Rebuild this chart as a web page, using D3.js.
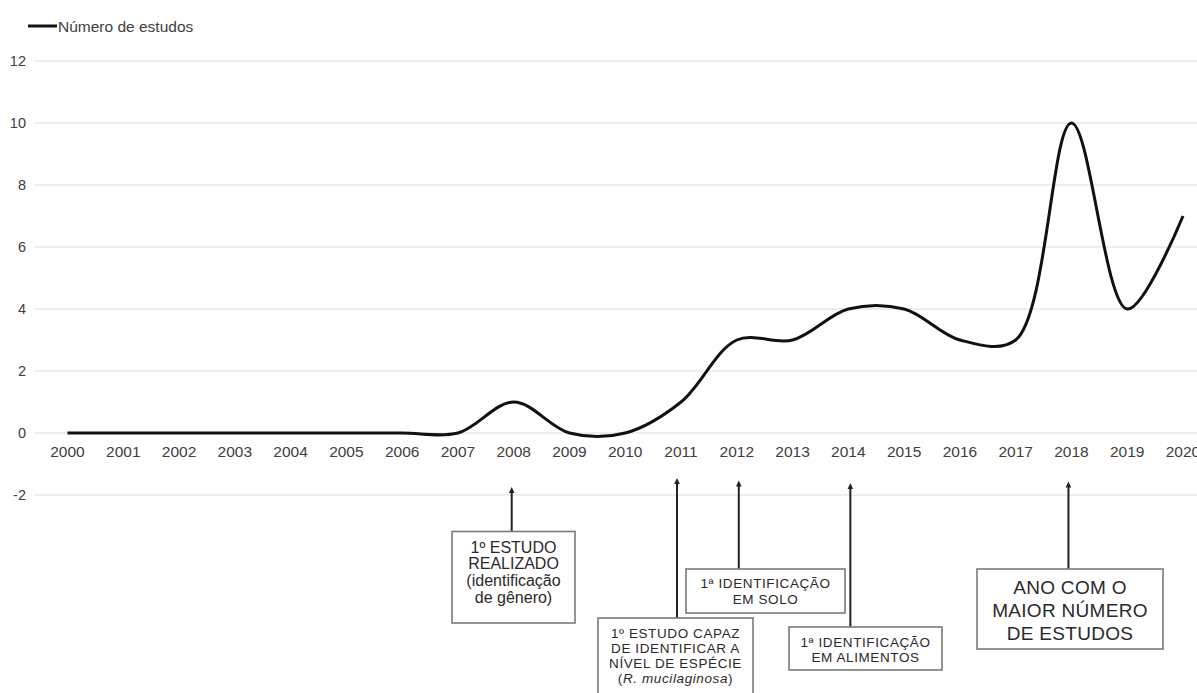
<!DOCTYPE html>
<html>
<head>
<meta charset="utf-8">
<script src="https://cdn.jsdelivr.net/npm/d3@7"></script>
<style>
  html, body { margin: 0; padding: 0; background: #fff; }
  svg { display: block; font-family: Arial, "Liberation Sans", sans-serif; }
</style>
</head>
<body>
<svg id="chart" width="1197" height="693"></svg>
<script>
// ---- data ----
const years = [2000,2001,2002,2003,2004,2005,2006,2007,2008,2009,2010,2011,2012,2013,2014,2015,2016,2017,2018,2019,2020];
const studies = [0,0,0,0,0,0,0,0,1,0,0,1,3,3,4,4,3,3,10,4,7];
const yTicks = [-2,0,2,4,6,8,10,12];
const seriesName = "Número de estudos";

const annoYears = [2008, 2011, 2012, 2014, 2018];
const annoLines = [
  ["1º ESTUDO", "REALIZADO", "(identificação", "de gênero)"],
  ["1º ESTUDO CAPAZ", "DE IDENTIFICAR A", "NÍVEL DE ESPÉCIE", "(R. mucilaginosa)"],
  ["1ª IDENTIFICAÇÃO", "EM SOLO"],
  ["1ª IDENTIFICAÇÃO", "EM ALIMENTOS"],
  ["ANO COM O", "MAIOR NÚMERO", "DE ESTUDOS"]
];

// ---- layout (styles/positions) ----
const annoLayout = [
  {dx: -2, arrowTop: 488, box: [452, 531.5, 123, 91.5], font: 16, ls: 0, lh: 16.7, ty: 547},
  {dx: -4, arrowTop: 479, box: [598, 618, 155, 80],    font: 13.5, ls: 0.6, lh: 15,   ty: 633, italicLast: true},
  {dx: 2,  arrowTop: 481.5, box: [686, 569, 159, 44],  font: 13.5, ls: 0.6, lh: 16.7, ty: 583},
  {dx: 2,  arrowTop: 484, box: [789, 627, 153, 43],    font: 13.5, ls: 0.6, lh: 15,   ty: 642},
  {dx: -3, arrowTop: 482.5, box: [977, 569, 186, 80],  font: 19, ls: 0.3, lh: 23,   ty: 587}
];

const svg = d3.select("#chart");

const x = d3.scaleLinear().domain([2000, 2020]).range([67.5, 1183]);
const y = d3.scaleLinear().domain([-2, 12]).range([495, 61]);

// gridlines
svg.append("g").selectAll("line").data(yTicks).join("line")
  .attr("x1", 35).attr("x2", 1197)
  .attr("y1", d => y(d)).attr("y2", d => y(d))
  .attr("stroke", "#e9e9e9").attr("stroke-width", 1.5);

// y labels
svg.append("g").selectAll("text").data(yTicks).join("text")
  .attr("x", 26).attr("y", d => y(d)).attr("dy", "0.35em")
  .attr("text-anchor", "end")
  .attr("font-size", 14.5).attr("fill", "#404040")
  .text(d => d);

// x labels
svg.append("g").selectAll("text").data(years).join("text")
  .attr("x", d => x(d)).attr("y", y(0) + 18.5).attr("dy", "0.35em")
  .attr("text-anchor", "middle")
  .attr("font-size", 15.5).attr("fill", "#404040")
  .text(d => d);

// line
const line = d3.line()
  .x((d, i) => x(years[i]))
  .y(d => y(d))
  .curve(d3.curveCatmullRom.alpha(0.5));
svg.append("path").datum(studies)
  .attr("d", line)
  .attr("fill", "none").attr("stroke", "#111").attr("stroke-width", 3)
  .attr("stroke-linejoin", "round");

// legend
svg.append("line").attr("x1", 28).attr("x2", 57).attr("y1", 26).attr("y2", 26)
  .attr("stroke", "#111").attr("stroke-width", 3);
svg.append("text").attr("x", 58).attr("y", 27).attr("dy", "0.35em")
  .attr("font-size", 15.5).attr("fill", "#404040").text(seriesName);

// annotations
annoYears.forEach((yr, i) => {
  const L = annoLayout[i];
  const ax = x(yr) + L.dx;
  const [bx, by, bw, bh] = L.box;
  const g = svg.append("g");
  g.append("line").attr("x1", ax).attr("x2", ax)
    .attr("y1", L.arrowTop + 3).attr("y2", by)
    .attr("stroke", "#222").attr("stroke-width", 2);
  g.append("path")
    .attr("d", `M${ax},${L.arrowTop - 1} L${ax - 2.8},${L.arrowTop + 5} L${ax + 2.8},${L.arrowTop + 5} Z`)
    .attr("fill", "#222");
  g.append("rect").attr("x", bx).attr("y", by).attr("width", bw).attr("height", bh)
    .attr("fill", "#fff").attr("stroke", "#7a7a7a").attr("stroke-width", 1.6);
  annoLines[i].forEach((t, j) => {
    const tx = g.append("text")
      .attr("x", bx + bw / 2).attr("y", L.ty + j * L.lh).attr("dy", "0.35em")
      .attr("text-anchor", "middle").attr("font-size", L.font)
      .attr("letter-spacing", L.ls).attr("fill", "#2a2a2a");
    if (L.italicLast && j === annoLines[i].length - 1) {
      tx.append("tspan").text("(");
      tx.append("tspan").attr("font-style", "italic").text("R. mucilaginosa");
      tx.append("tspan").text(")");
    } else {
      tx.text(t);
    }
  });
});
</script>
</body>
</html>
